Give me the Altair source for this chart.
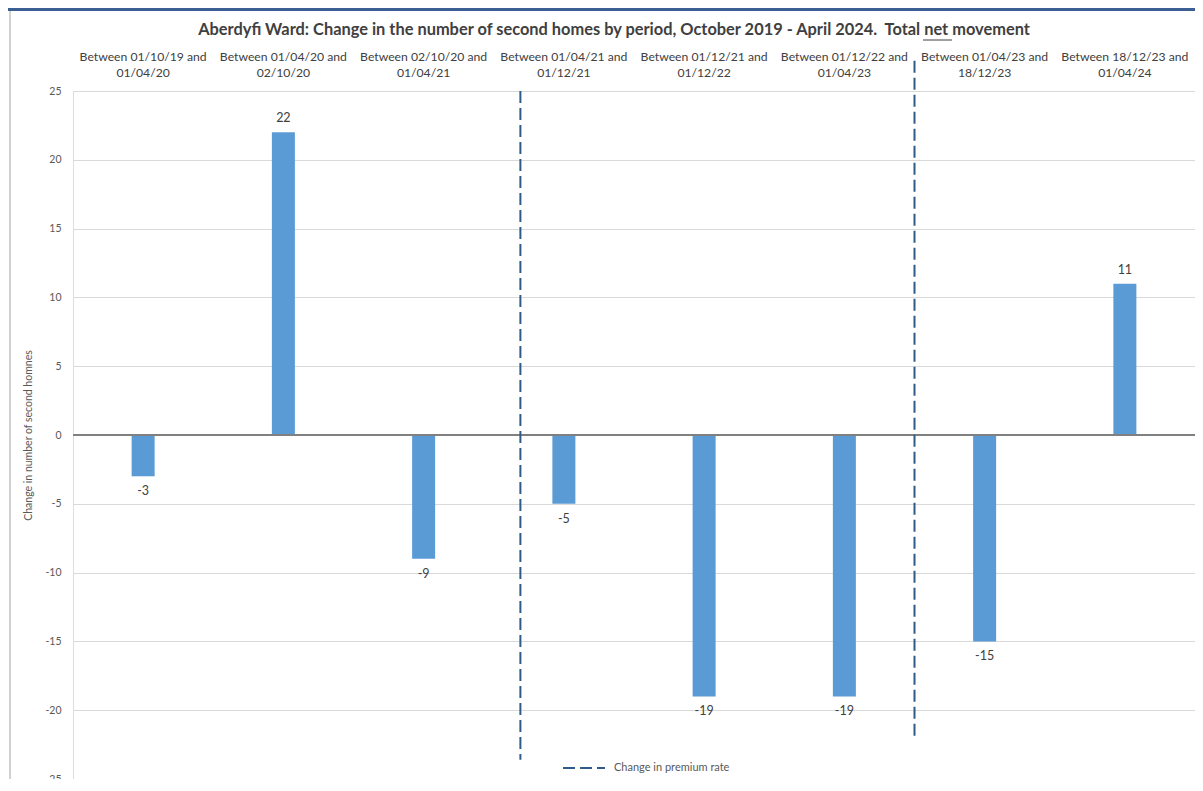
import altair as alt
import pandas as pd

FONT = "Lato"

# ---- data ----
periods = [
    "Between 01/10/19 and|01/04/20",
    "Between 01/04/20 and|02/10/20",
    "Between 02/10/20 and|01/04/21",
    "Between 01/04/21 and|01/12/21",
    "Between 01/12/21 and|01/12/22",
    "Between 01/12/22 and|01/04/23",
    "Between 01/04/23 and|18/12/23",
    "Between 18/12/23 and|01/04/24",
]
changes = [-3, 22, -9, -5, -19, -19, -15, 11]

# premium-rate change markers (position in period units from the left edge)
marker_pos = [3.19, 6.0]
marker_top = [25.0, 27.2]
marker_bottom = [-23.6, -22.1]
marker_label = ["Change in premium rate", "Change in premium rate"]

y_ticks = [-25, -20, -15, -10, -5, 0, 5, 10, 15, 20, 25]

title_text = ["Aberdyfi Ward: Change in the number of second homes by period, "
              "October 2019 - April 2024.\u00a0 Total net movement"]

W, H = 1122, 688

df = pd.DataFrame({"period": periods, "change": changes})
mk = pd.DataFrame({"pos": marker_pos, "top": marker_top,
                   "bottom": marker_bottom, "label": marker_label})
tdf = pd.DataFrame({"t": title_text})

xscale = alt.Scale(paddingInner=0, paddingOuter=0)
xenc = alt.X(
    "period:N", sort=periods, scale=xscale,
    axis=alt.Axis(orient="top", title=None, labelAngle=0, ticks=False, domain=False,
                  labelExpr="split(datum.label, '|')", labelFont=FONT, labelFontSize=12.2,
                  labelColor="#404040", labelLineHeight=16, labelPadding=28, labelLimit=300),
)
yscale = alt.Scale(domain=[-25, 25], nice=False, zero=False)
yenc = alt.Y(
    "change:Q", scale=yscale,
    axis=alt.Axis(values=y_ticks, title="Change in number of second homnes",
                  labelExpr="toString(datum.value)",
                  titleFont=FONT, titleFontSize=10.5, titleFontWeight="normal",
                  titleColor="#595959", titlePadding=11,
                  labelFont=FONT, labelFontSize=10.5, labelColor="#595959",
                  labelPadding=12, ticks=False, domain=False,
                  gridColor="#d9d9d9", gridWidth=1),
)

bars = alt.Chart(df).mark_bar(width=23, color="#5B9BD5").encode(x=xenc, y=yenc)

pos_labels = alt.Chart(df).transform_filter("datum.change > 0").transform_calculate(
    lab="toString(datum.change)").mark_text(
    baseline="bottom", dy=-7, font=FONT, fontSize=12.5, color="#404040"
).encode(x=alt.X("period:N", sort=periods), y=alt.Y("change:Q"), text="lab:N")

neg_labels = alt.Chart(df).transform_filter("datum.change < 0").transform_calculate(
    lab="toString(datum.change)").mark_text(
    baseline="top", dy=9, font=FONT, fontSize=12.5, color="#404040"
).encode(x=alt.X("period:N", sort=periods), y=alt.Y("change:Q"), text="lab:N")

zero_line = alt.Chart(df).mark_rule(color="#808080", strokeWidth=1.6).encode(
    y=alt.datum(0))

# frame decoration (left border and top band), title and its underline
left_border = alt.Chart(df).mark_rule(color="#d0d0d0", strokeWidth=1.5).encode(
    x=alt.value(-63), y=alt.value(-80), y2=alt.value(H + 20))
top_band = alt.Chart(df).mark_rule(color="#3B5F94", strokeWidth=3).encode(
    x=alt.value(-70), x2=alt.value(W + 20), y=alt.value(-82))
title = alt.Chart(tdf).mark_text(
    font=FONT, fontSize=16.4, fontWeight="bold", color="#404040",
    align="center", baseline="middle"
).encode(x=alt.value(541), y=alt.value(-61), text="t:N")
underline = alt.Chart(tdf).mark_rule(color="#404040", strokeWidth=1).encode(
    x=alt.value(850), x2=alt.value(879), y=alt.value(-51))

base = alt.layer(left_border, top_band, title, underline, bars, zero_line,
                 pos_labels, neg_labels)

markers = alt.Chart(mk).mark_rule(color="#2F5B8A", strokeWidth=2).encode(
    x=alt.X("pos:Q", scale=alt.Scale(domain=[0, 8], nice=False, zero=False), axis=None),
    y=alt.Y("top:Q", scale=yscale),
    y2="bottom:Q",
    strokeDash=alt.StrokeDash(
        "label:N",
        scale=alt.Scale(domain=["Change in premium rate"], range=[[12, 5]]),
        legend=alt.Legend(title=None, orient="none", legendX=489, legendY=655,
                          symbolType="stroke", symbolStrokeColor="#2F5B8A",
                          symbolStrokeWidth=2, symbolSize=1764,
                          labelFont=FONT, labelFontSize=11, labelColor="#595959",
                          labelOffset=8),
    ),
)

chart = alt.layer(base, markers).resolve_scale(x="independent").properties(
    width=W, height=H,
    autosize=alt.AutoSizeParams(type="none"),
    padding={"left": 65, "top": 83, "right": 0, "bottom": 0},
).configure_view(stroke=None).configure(background="white")

chart.save("out.html", embed_options={"renderer": "svg", "actions": False})
